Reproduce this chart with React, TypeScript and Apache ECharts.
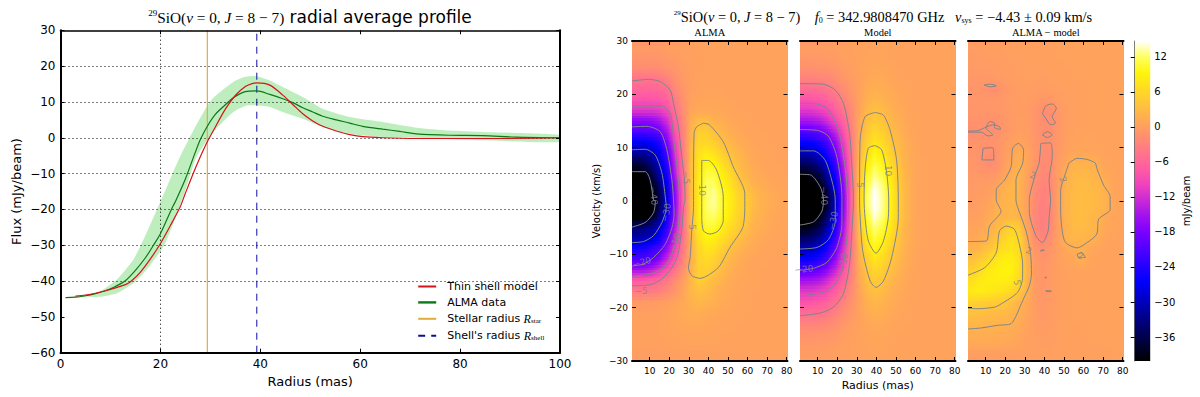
import React, { useEffect, useRef } from "react";
import * as echarts from "echarts";

const gridLinesY = [20, 10, 0, -10, -20, -30, -40];
const gridLinesX = [20];
const stellarRadius = 29.4;
const shellRadius = 39.3;

const redCurve = [[3,-44.2],[5,-43.9],[7,-43.4],[9,-42.7],[11,-41.9],[13,-41],[14.2,-40],[16,-37.5],[18,-33.8],[19.8,-30],[22,-24.5],[23.9,-19.5],[25,-15.5],[27,-8.5],[29,-2.2],[31,3],[33,8],[35,11.8],[37,14.3],[38.5,15.2],[39.3,15.3],[41.9,14.7],[44.5,11.9],[46.5,9.3],[48.5,6.7],[50.5,4.7],[52.5,3.2],[55.2,1.9],[57.9,0.9],[60.5,0.3],[64.5,0],[71.3,-0.2],[87.3,-0.2],[100,0]];
const greenCurve = [[1,-44.6],[3,-44.5],[5,-44.1],[7,-43.5],[9,-42.7],[11,-41.5],[12.9,-40],[15,-37],[17,-33.5],[18.6,-30],[20,-26.8],[22.2,-20],[23,-17.8],[25,-11.5],[27,-4],[28,-0.5],[29.4,3.2],[31,6.5],[33,9.2],[34.6,11.2],[37,12.9],[39.3,13.1],[41.9,12.1],[44.5,10.9],[46.5,9.8],[48.5,8.4],[50.5,7.2],[52.5,6],[55.2,5],[57.9,4.1],[60.5,3.2],[64.5,2.4],[67.9,1.8],[71.3,1.1],[77.9,0.7],[84.5,0.6],[91.2,0.2],[100,0]];
const bandUpper = [[1,-44.6],[4.6,-44],[7.9,-42.9],[11.3,-39.6],[14.6,-34],[16.6,-28.5],[19.3,-20],[21.2,-14],[23.9,-5.4],[26.6,2],[29.2,8.5],[30.6,11.2],[34.6,15.6],[37,17],[39.3,17.2],[41.9,16],[44.5,14.2],[48.5,11.4],[52.5,8.1],[57.9,5.8],[64.5,4.4],[71.3,2.8],[77.9,2],[84.5,1.6],[100,0.8]];
const bandLower = [[1,-44.6],[4.6,-44.4],[7.9,-44.4],[11.3,-43.4],[14.6,-40.6],[17.2,-36.9],[20.6,-30.4],[22.6,-23.9],[25.2,-13.8],[27.2,-5.4],[30.6,1.6],[34.6,7.2],[37.3,9],[39.3,9],[41.9,8.6],[44.5,7.2],[48.5,5.3],[52.5,3],[57.9,1.1],[64.5,0.2],[71.3,0],[77.9,-0.4],[84.5,-0.7],[100,-1.2]];

const radiusCells = [3,7,11,15,19,23,27,31,35,39,43,47,51,55,59,63,67,71,75,79];
const velocityCells = [29,27,25,23,21,19,17,15,13,11,9,7,5,3,1,-1,-3,-5,-7,-9,-11,-13,-15,-17,-19,-21,-23,-25,-27,-29];

const almaGrid = [
[-.5,-.5,-.5,-.3,-.2,0,0,.2,.3,.3,.3,.4,.4,.4,.5,.5,.5,.5,.5,.5],
[-1,-1,-1,-.8,-.5,-.3,0,.2,.3,.3,.3,.4,.4,.4,.5,.5,.5,.5,.5,.5],
[-2,-2,-2,-1.8,-1.2,-.8,-.3,0,.2,.3,.3,.4,.4,.4,.5,.5,.5,.5,.5,.5],
[-4.5,-4.5,-4.5,-4,-3,-1.5,-.5,0,.3,.4,.4,.4,.4,.4,.5,.5,.5,.5,.5,.5],
[-6,-6.2,-6.2,-5.8,-5,-2.5,-1,0,.3,.5,.5,.5,.4,.4,.5,.5,.5,.5,.5,.5],
[-8,-8.2,-8,-7.8,-6.5,-3.8,-1.5,.3,.6,.7,.7,.6,.5,.5,.5,.5,.5,.5,.5,.5],
[-11,-11,-11,-10.5,-9,-5,-2,.5,1,1,1,.8,.6,.5,.5,.5,.5,.5,.5,.5],
[-17,-17,-16.5,-15,-12,-6.5,-2.5,1.5,3,3,2,1.5,1,.7,.6,.5,.5,.5,.5,.5],
[-21,-21,-20.5,-19,-15,-8,-3,2,5,5,3.5,2.5,1.5,1,.7,.6,.5,.5,.5,.5],
[-27,-27,-26,-24,-18,-10,-3.5,2.5,6,6,5,3.5,2.5,1.5,1,.7,.6,.5,.5,.5],
[-32,-31.5,-30,-27,-21,-11.5,-4,3,7,8,7,5,3.5,2.5,1.5,1,.7,.6,.5,.5],
[-37,-36,-33,-29,-23,-13,-4.5,3,7.5,10,9,7,5,3,2,1,.8,.6,.5,.5],
[-40.5,-39.5,-36.5,-31,-25,-14,-5,3,8,11,11,8.5,6.5,4,2.5,1.5,1,.7,.6,.5],
[-43,-42,-39,-34,-27,-16,-6,3,8.5,12,12,9.5,7.5,5,3.5,2,1.5,1,.7,.6],
[-44,-43,-41,-36,-28,-17,-6.5,3,8.5,12,13,10.5,8.5,6,4.5,3,2,1.5,1,.8],
[-44,-43,-41,-35.5,-28,-17,-6.5,3,8.5,12,13,10.5,8.5,6,4.8,3,2,1.5,1,.8],
[-41.5,-41,-38.5,-33,-26,-16,-6,3,8.5,11.5,12,10,8,5.5,4.5,2.5,1.8,1.2,.8,.7],
[-34,-33.5,-32,-29,-23,-14,-5.5,2.5,8,10.5,10.5,8.5,6.5,5.2,3.5,2,1.5,1,.7,.6],
[-31,-30.5,-29,-26,-20,-12,-5,2,7,9,8.5,7,5.3,3.5,2.5,1.5,1,.7,.6,.5],
[-25,-24.5,-23,-21,-16,-10,-4,1.5,6,7.5,7,5.3,3.5,2.5,1.5,1,.7,.6,.5,.5],
[-21,-21,-20,-17,-12.5,-7.5,-3,1.5,5.5,6.5,5.5,3.8,2.5,1.5,1,.7,.6,.5,.5,.5],
[-15,-15,-13.5,-11,-8,-4.5,-1.5,2,5.2,5.5,4.2,3,1.8,1.2,.8,.6,.5,.5,.5,.5],
[-7,-7,-6.5,-5.5,-3.8,-2,0,2.5,5,4.2,3,2,1.2,.9,.7,.6,.5,.5,.5,.5],
[-4,-4,-3.8,-3.2,-2.3,-1,.5,2.5,3.5,3,2.2,1.5,1,.8,.6,.5,.5,.5,.5,.5],
[-.5,-.5,-.5,-.3,0,.5,1,2,2.5,2.2,1.8,1.2,1,.7,.6,.5,.5,.5,.5,.5],
[0,0,0,.2,.5,.8,1.2,1.5,1.5,1.2,1,.8,.7,.6,.5,.5,.5,.5,.5,.5],
[.2,.2,.2,.3,.5,.7,.9,1,1,.8,.7,.6,.6,.5,.5,.5,.5,.5,.5,.5],
[.2,.2,.2,.3,.4,.5,.6,.7,.7,.6,.6,.5,.5,.5,.5,.5,.5,.5,.5,.5],
[.2,.2,.2,.2,.3,.4,.5,.5,.5,.5,.5,.5,.5,.5,.5,.5,.5,.5,.5,.5],
[-.2,-.2,-.2,-.2,-.1,0,0,.1,.1,.2,.2,.2,.2,.2,.3,.3,.3,.3,.3,.3],
];

const modelGrid = [
[-.2,-.2,-.2,-.1,0,.1,.3,.4,.5,.5,.5,.5,.5,.5,.5,.5,.5,.5,.5,.5],
[-.7,-.7,-.6,-.5,-.3,0,.2,.4,.5,.6,.6,.5,.5,.5,.5,.5,.5,.5,.5,.5],
[-1.5,-1.5,-1.3,-1.2,-.8,-.3,0,.4,.7,.8,.8,.6,.5,.5,.5,.5,.5,.5,.5,.5],
[-3,-3,-2.8,-2.5,-1.8,-1,-.3,.3,.9,1.2,1.1,.8,.6,.5,.5,.5,.5,.5,.5,.5],
[-5.5,-5.3,-5,-4.5,-3.3,-2,-.8,.2,1.2,1.8,1.6,1.1,.8,.6,.5,.5,.5,.5,.5,.5],
[-8.3,-8,-7.5,-6.5,-5,-3.2,-1.5,.2,1.8,2.5,2.2,1.5,1,.7,.5,.5,.5,.5,.5,.5],
[-11,-10.8,-10,-9,-7,-4.5,-2.2,.4,2.5,3.5,3,2,1.3,.8,.6,.5,.5,.5,.5,.5],
[-15,-14.8,-14,-12,-9.5,-6.5,-3,.7,3.3,4.7,4,2.6,1.7,1,.6,.5,.5,.5,.5,.5],
[-20.5,-20,-19,-16.5,-13,-8.5,-3.8,1,4.2,6,5.2,3.5,2.2,1.2,.7,.5,.5,.5,.5,.5],
[-26,-25.5,-24,-21,-16.5,-10.5,-4.5,1.5,5.3,7.5,6.5,4.5,2.8,1.5,.8,.5,.5,.5,.5,.5],
[-30.5,-30,-28,-24.5,-19.5,-12,-5,2,6.5,9.5,8,5.5,3.3,1.8,.9,.5,.5,.5,.5,.5],
[-35,-34,-32,-28,-22.5,-14,-5.5,2.5,8,11,9.5,6.8,4,2,1,.6,.5,.5,.5,.5],
[-39.5,-38,-36,-31,-25,-15.5,-6,3,9.5,12.5,11,8,4.5,2.2,1,.6,.5,.5,.5,.5],
[-42.5,-41.5,-39,-34,-27.5,-17,-6.5,3.5,10.5,14,12.5,9,5,2.5,1,.6,.5,.5,.5,.5],
[-45,-44,-42,-37,-30,-18,-7,4.5,11.5,15,13,9.5,5.2,2.5,1,.6,.5,.5,.5,.5],
[-45,-44,-42,-37,-30,-18,-7,4.5,11.5,15,13,9.5,5.2,2.5,1,.6,.5,.5,.5,.5],
[-42.5,-41.5,-39,-34,-27.5,-17,-6.5,3.5,10.5,14,12.5,9,5,2.5,1,.6,.5,.5,.5,.5],
[-39.5,-38,-36,-31,-25,-15.5,-6,3,9.5,12.5,11,8,4.5,2.2,1,.6,.5,.5,.5,.5],
[-35,-34,-32,-28,-22.5,-14,-5.5,2.5,8,11,9.5,6.8,4,2,1,.6,.5,.5,.5,.5],
[-30.5,-30,-28,-24.5,-19.5,-12,-5,2,6.5,9.5,8,5.5,3.3,1.8,.9,.5,.5,.5,.5,.5],
[-26,-25.5,-24,-21,-16.5,-10.5,-4.5,1.5,5.3,7.5,6.5,4.5,2.8,1.5,.8,.5,.5,.5,.5,.5],
[-20.5,-20,-19,-16.5,-13,-8.5,-3.8,1,4.2,6,5.2,3.5,2.2,1.2,.7,.5,.5,.5,.5,.5],
[-15,-14.8,-14,-12,-9.5,-6.5,-3,.7,3.3,4.7,4,2.6,1.7,1,.6,.5,.5,.5,.5,.5],
[-11,-10.8,-10,-9,-7,-4.5,-2.2,.4,2.5,3.5,3,2,1.3,.8,.6,.5,.5,.5,.5,.5],
[-8.3,-8,-7.5,-6.5,-5,-3.2,-1.5,.2,1.8,2.5,2.2,1.5,1,.7,.5,.5,.5,.5,.5,.5],
[-5.5,-5.3,-5,-4.5,-3.3,-2,-.8,.2,1.2,1.8,1.6,1.1,.8,.6,.5,.5,.5,.5,.5,.5],
[-3,-3,-2.8,-2.5,-1.8,-1,-.3,.3,.9,1.2,1.1,.8,.6,.5,.5,.5,.5,.5,.5,.5],
[-1.5,-1.5,-1.3,-1.2,-.8,-.3,0,.4,.7,.8,.8,.6,.5,.5,.5,.5,.5,.5,.5,.5],
[-.7,-.7,-.6,-.5,-.3,0,.2,.4,.5,.6,.6,.5,.5,.5,.5,.5,.5,.5,.5,.5],
[-.2,-.2,-.2,-.1,0,.1,.3,.4,.5,.5,.5,.5,.5,.5,.5,.5,.5,.5,.5,.5],
];

const residualGrid = [
[-.2,-.1,0,0,0,.1,.2,.2,.2,.2,.3,.3,.4,.4,.4,.5,.5,.5,.5,.5],
[-.3,-.3,-.2,-.2,-.1,0,0,.1,.1,.1,.2,.3,.3,.4,.4,.4,.5,.5,.5,.5],
[-.5,-.5,-.4,-.3,-.2,-.1,0,0,0,0,.1,.2,.3,.3,.4,.4,.4,.5,.5,.5],
[-.8,-.8,-.7,-.5,-.3,-.2,-.1,0,0,-.1,0,.1,.2,.3,.3,.4,.4,.4,.5,.5],
[-1,-1,-1.5,-1.8,-1,-.4,-.2,-.1,-.2,-.3,-.2,0,.1,.2,.3,.3,.4,.4,.4,.5],
[-.8,-1,-1,-.8,-.6,-.4,-.3,-.2,-.5,-.8,-.6,-.2,0,.2,.3,.3,.4,.4,.4,.4],
[-1,-1,-1,-.8,-.7,-.5,-.3,-.3,-1,-1.8,-1.8,-.8,-.1,.1,.3,.3,.4,.4,.4,.4],
[-1.3,-1.3,-1.5,-1.7,-1,-.5,-.2,-.3,-1,-1.8,-1.9,-1,-.1,.2,.3,.4,.4,.4,.4,.4],
[-2,-1.7,-1.5,-1.7,-1,-.5,0,-.2,-1,-1.7,-1.7,-.8,0,.3,.4,.5,.5,.4,.4,.4],
[-1.2,-1.2,-1.3,-1.2,-.6,0,.5,0,-1,-1.5,-1.6,-.7,0,.4,.5,.6,.5,.5,.4,.4],
[-1,-1.3,-1.8,-1.6,-.5,.5,1.5,.8,-.8,-2,-2,-.6,.3,.7,.8,.7,.6,.5,.5,.4],
[-.8,-1.3,-2.1,-1.8,-.4,1,2,.8,-1,-2.2,-2,-.3,.8,2,2.1,2,1.5,.6,.5,.4],
[-.7,-.8,-1,-.8,.2,1.5,2.3,.5,-1.2,-2.5,-2.2,0,1.8,2.5,2.6,2.5,2.2,1,.6,.4],
[-.5,-.4,-.2,.2,1.5,2.3,2.2,.3,-1.8,-3,-2.5,0,2,2.8,3,2.8,2.5,1.8,.7,.5],
[-.3,-.2,0,1,2,2.5,2.2,.2,-2,-3.2,-2.8,.2,2.2,3,3.2,3,2.7,2.1,.8,.5],
[-.3,0,.5,1.5,2.2,2.5,2,.2,-2.2,-3.4,-2.8,.2,2.2,3,3.2,3,2.7,2.1,1,.5],
[0,.3,1,2,2.2,2.6,2.2,.3,-2.5,-3.5,-2.6,0,2.2,3,3.2,2.8,2.3,1.2,.7,.5],
[.5,.8,1.6,2.5,3.8,5.5,4.5,.8,-2.2,-3.5,-2.5,0,2,2.8,3,2.6,2.1,1,.6,.5],
[1,1.3,2.2,3.5,5.5,7,6,1.5,-1.8,-2.8,-1.8,.1,2,2.5,2.4,2.2,1.5,.7,.5,.4],
[2,2.5,3.8,5.2,7,7.5,6.5,2,-1,-1.7,-1,0,1,1.5,1.8,1,.7,.5,.4,.4],
[3.5,4.5,6,7.5,8.5,8.5,7,2.3,-.5,-1.3,-.7,0,.5,.9,1.8,.8,.5,.4,.4,.4],
[5,6.5,8,8.5,9,9,7,2.5,-.3,-1,-.5,0,.3,.5,.5,.5,.4,.4,.4,.4],
[7,8,8.5,8.5,8.5,8,6,2.5,-.3,-1,-.5,0,.2,.4,.4,.4,.4,.4,.4,.4],
[8,8.5,8,7.5,7,6.2,4.5,2,-.2,-1,-.6,0,.2,.3,.4,.4,.4,.4,.4,.4],
[5.5,5.2,5,4.8,4.5,3.5,2.3,1,-.2,-.8,-.5,0,.2,.3,.4,.4,.4,.4,.4,.4],
[3.5,3.5,3.2,3,2.8,2.5,1.8,.8,-.2,-.7,-.4,0,.2,.3,.3,.3,.4,.4,.4,.4],
[2.5,2.4,2.2,2.2,2,1.8,1.2,.5,-.2,-.5,-.3,0,.2,.3,.3,.3,.3,.4,.4,.4],
[1.6,1.6,1.5,1.5,1.4,1.2,.8,.3,-.1,-.3,-.2,0,.2,.2,.3,.3,.3,.3,.4,.4],
[1,1,1,1,.9,.8,.5,.2,0,-.1,-.1,0,.1,.2,.2,.3,.3,.3,.3,.3],
[-.3,-.3,-.2,-.2,-.2,-.1,0,0,0,0,0,.1,.1,.1,.2,.2,.2,.2,.3,.3],
];

const almaContours = [
[[1,5.5],[7.8,5.5],[10.3,3.9],[12,0.2],[12.9,0],[12,-2.2],[7.8,-4],[1,-4.9]],
[[1,9.6],[7.8,9.7],[12.9,8.6],[16.3,5.2],[18,0.8],[18.5,-1.2],[16.3,-4],[12,-6.5],[6.9,-7.6],[1,-7.8]],
[[1,13.9],[8.6,14],[15.4,13],[18.8,9.6],[21.4,3.9],[22.2,0.2],[22.5,-2.5],[21.4,-5],[18,-8.1],[12,-10.6],[6.9,-11.8],[1,-12.2]],
[[1,17.8],[16.3,17.8],[20.5,16.4],[22.5,10.8],[24.7,3.9],[25.3,0.2],[25,-3.1],[23.6,-7.5],[20.5,-10.6],[16.3,-12.8],[8.6,-13.8],[1,-14.1]],
[[1,22.5],[9.5,22.8],[15.4,22.4],[20.5,20.8],[22.2,18.3],[24.7,13.9],[26.4,8.3],[27.8,3.9],[28.1,0.2],[27.3,-1.2],[26.4,-5.6],[24.2,-10.3],[21.4,-12.5],[16.3,-14.6],[10.3,-15.7],[1,-15.9]],
[[37.5,14.6],[40.5,14.3],[47.6,11.1],[52.7,6.4],[58.6,1.4],[58.6,-1.2],[57.5,-5],[51,-8.7],[45,-12.5],[35.8,-14.5],[31.5,-14],[29.8,-12.5],[30.7,-10.6],[31.5,-5.6],[32.4,-1.2],[32.4,1.4],[32.7,12.7],[34,13.9],[37.5,14.6]],
[[36.6,7.6],[40,7.6],[44.2,5.8],[47.6,0.8],[47.6,-3.7],[45,-5.6],[40.8,-6.2],[37.5,-5.6],[36.6,-3.1],[36.6,0.6],[36.6,7.6]],
];
const modelContours = [
[[1,22],[13,21.9],[19,20.8],[23.2,18.3],[26.3,12.7],[27.5,6.4],[28.3,0.2],[27.5,-5.6],[26.3,-11.8],[23.2,-17.4],[18.1,-19.9],[11.4,-21],[1,-21.5]],
[[1,18.3],[9.7,18.2],[15.6,17.1],[20.7,13.3],[24,6.4],[25.3,0.2],[25.3,-4.4],[23.2,-11.8],[19,-15.6],[13,-17.1],[1,-17.8]],
[[1,13.4],[10.5,13.2],[15.6,12.1],[19.8,8.3],[22.4,0.8],[22.4,-4.4],[19.8,-8.7],[14.7,-11.5],[8,-12.6],[1,-13]],
[[1,9.4],[8,9.4],[13.9,7.6],[18.1,2.6],[19,0.2],[19,-3.7],[15.6,-7.2],[9.7,-8.7],[1,-9]],
[[1,5],[6.3,4.9],[11.4,2.6],[13,0.2],[12.2,-1.9],[8,-3.9],[1,-4.5]],
[[39.3,16.6],[34.2,15.8],[31.7,11.4],[31.4,0.2],[31.7,-3.1],[33,-9.3],[36.8,-15],[39.8,-16.2],[43.6,-15],[47.8,-10.6],[51.2,-3.1],[51.2,0.2],[50.3,7.7],[47,13.3],[43.6,16.1],[39.3,16.6]],
[[39.3,10.4],[35.9,9.9],[34.2,5.8],[33.7,0.2],[34.2,-3.1],[35.9,-7.5],[39.8,-9.8],[43.6,-7.5],[46.1,-3.1],[46.3,0.2],[45.3,5.2],[42.7,9.6],[39.3,10.4]],
];
const residualContours = [
[[9.2,21.75],[12.5,21.9],[15.4,21.6],[12.5,21.4],[9.2,21.75]],
[[1,12.9],[7.8,12.9],[11.2,12.2],[13.7,12.4],[12,13],[10.3,13.6],[12,14.9],[14.6,14.6],[14.5,13.8],[17.6,13.4],[17.2,13.9],[14,14.3],[10.5,13.9],[6,13.2],[1,13.1]],
[[8.7,9.9],[13.7,10],[14.2,7.7],[8.1,7.7],[8.7,9.9]],
[[39,16.4],[40.7,17.8],[44,18.2],[46.1,17.4],[44,15.8],[45.7,14.6],[43.2,14.3],[40.7,15.5],[39,16.4]],
[[39,12.4],[41.5,13],[44,12.4],[41.5,11.9],[39,12.4]],
[[1,-7.6],[10.3,-7.5],[12,-4.7],[17.9,-1.9],[17.1,-1.2],[15.4,0.2],[15.4,2.1],[19.6,3.9],[23,6.4],[23.8,9.9],[26.7,10.8],[29.4,9.6],[28.9,7.1],[25.5,3.9],[25.5,0.2],[26.4,-1.2],[30.6,-5.6],[33,-10],[33.4,-13.7],[32.3,-15.9],[28.9,-18.7],[23,-23],[16.2,-23.3],[7.8,-23.8],[1,-24]],
[[1,-13.9],[9.5,-12.5],[15.4,-9.7],[17.1,-5.6],[20.5,-4.7],[24.7,-5.3],[27.2,-8.1],[28.9,-11.8],[28.9,-14.3],[26.4,-17.1],[17.9,-19.3],[14.6,-19.9],[6.1,-20.2],[1,-20.1]],
[[38.2,10.8],[43.2,10.9],[44,8.3],[42.4,3.9],[43.2,0.2],[42.4,-3.1],[41.9,-5.6],[39,-7.8],[35.6,-6.5],[32.3,-1.9],[32.3,0.2],[35.6,5.2],[37.3,7.1],[38.2,10.8]],
[[52.5,7.1],[56.7,8],[61.8,7.8],[66,7.1],[66.8,6.1],[70.2,3],[73.6,0.8],[73.6,-1.6],[67.7,-3.4],[66.8,-6.2],[61.8,-7.8],[56.7,-8.8],[50.8,-7.8],[49.1,-5.6],[48.3,-1.9],[48.3,2],[50.8,5.2],[52.5,7.1]],
[[56.7,-10],[59.2,-9.7],[60.9,-10.6],[57.6,-10.6],[56.7,-10]],
[[38.2,-9.2],[40,-9.2],[38.2,-9.4],[38.2,-9.2]],
[[40.2,-14.3],[41.2,-14.3],[40.7,-14.5],[40.2,-14.3]],
[[40.7,-16.8],[43.6,-16.9],[41,-17],[40.7,-16.8]],
];
const almaLabels: [number, number, string, number][] = [[12,1,"−40",-85],[18.5,-2.2,"−30",80],[6,-11.5,"−20",15],[23,-7.8,"−10",70],[5.5,-16.8,"−5",0],[28.5,4.4,"−5",-90],[31.5,-4.9,"5",-90],[36.6,2,"10",-90]];
const modelLabels: [number, number, string, number][] = [[13,1,"−40",-90],[18,-3.7,"−30",80],[3,-12.8,"−20",5],[23,-11.5,"−10",80],[31.4,3,"5",-90],[46,5.7,"10",-90]];
const residualLabels: [number, number, string, number][] = [[26,-15.3,"5",-80],[32,-9.3,"2",-20],[34,4.8,"2",-20],[58.4,-10.3,"2",-20],[49.5,4,"2",-70]];

const panelTicksX = [10,20,30,40,50,60,70,80];
const colorbarTicks = [12,6,0,-6,-12,-18,-24,-30,-36];
const colorMin = -40.1;
const colorMax = 14.7;
const colormap = ["#000000","#000033","#000066","#000099","#0000cc","#0000ff","#2800ff","#5000ff","#7800ff","#9f0ff0","#c729d6","#ef42bd","#ff5ca3","#ff758a","#ff8f70","#ffa857","#ffc23d","#ffdb24","#fff50a","#ffff60","#ffffff"];

const sans = "'DejaVu Sans'";
const serif = "'Liberation Serif'";
const contourColor = "#7f8589";
const minus = (v: number | string) => String(v).replace("-", "−");

const P = { left: { l: 60.5, t: 30.3, w: 499.5, h: 322.4 }, panels: [632, 800, 968], pw: 155.5, pt: 41, ph: 320, cb: { l: 1134.7, w: 15.5 } };

function buildOption() {
  const grid: any[] = [{ left: P.left.l, top: P.left.t, width: P.left.w, height: P.left.h }];
  P.panels.forEach((l) => grid.push({ left: l, top: P.pt, width: P.pw, height: P.ph }));
  grid.push({ left: P.cb.l, top: P.pt, width: P.cb.w, height: P.ph });

  const hiddenLabel = { show: false };
  const xAxis: any[] = [];
  const yAxis: any[] = [];
  const tickBase = { inside: true, length: 4, lineStyle: { color: "#000", width: 1 } };
  const thick = (w: number) => ({ show: true, onZero: false, lineStyle: { color: "#000", width: w } });

  xAxis.push({ gridIndex: 0, type: "value", min: 0, max: 100, interval: 20, z: 10, position: "bottom", splitLine: { show: false }, axisLine: thick(2), axisTick: tickBase,
    axisLabel: { color: "#000", fontFamily: sans, fontSize: 12, margin: 5, showMaxLabel: true },
    name: "Radius (mas)", nameLocation: "middle", nameGap: 22, nameTextStyle: { color: "#000", fontFamily: sans, fontSize: 13 } });
  xAxis.push({ gridIndex: 0, type: "value", min: 0, max: 100, interval: 20, z: 10, position: "top", splitLine: { show: false }, axisLine: thick(1.5), axisTick: tickBase, axisLabel: hiddenLabel });
  yAxis.push({ gridIndex: 0, type: "value", min: -60, max: 30, interval: 10, z: 10, position: "left", splitLine: { show: false }, axisLine: thick(2), axisTick: tickBase,
    axisLabel: { color: "#000", fontFamily: sans, fontSize: 12, margin: 5, formatter: (v: number) => minus(v) },
    name: "Flux (mJy/beam)", nameLocation: "middle", nameGap: 38, nameRotate: 90, nameTextStyle: { color: "#000", fontFamily: sans, fontSize: 13 } });
  yAxis.push({ gridIndex: 0, type: "value", min: -60, max: 30, interval: 10, z: 10, position: "right", splitLine: { show: false }, axisLine: thick(2), axisTick: tickBase, axisLabel: hiddenLabel });

  const small = { color: "#000", fontFamily: sans, fontSize: 9 };
  [1, 2, 3].forEach((g) => {
    const custom = { customValues: panelTicksX };
    xAxis.push({ gridIndex: g, type: "value", min: 1, max: 80.4, z: 10, position: "bottom", splitLine: { show: false }, axisLine: thick(2),
      axisTick: { ...tickBase, ...custom }, axisLabel: { ...small, ...custom, margin: 5 },
      ...(g === 2 ? { name: "Radius (mas)", nameLocation: "middle", nameGap: 18, nameTextStyle: { color: "#000", fontFamily: sans, fontSize: 11 } } : {}) });
    xAxis.push({ gridIndex: g, type: "value", min: 1, max: 80.4, z: 10, position: "top", splitLine: { show: false }, axisLine: thick(2), axisTick: { ...tickBase, ...custom }, axisLabel: hiddenLabel });
    yAxis.push({ gridIndex: g, type: "value", min: -30, max: 30, interval: 10, z: 10, position: "left", splitLine: { show: false }, axisLine: { show: false }, axisTick: { ...tickBase, show: true },
      axisLabel: g === 1 ? { ...small, margin: 4, formatter: (v: number) => minus(v) } : hiddenLabel,
      ...(g === 1 ? { name: "Velocity (km/s)", nameLocation: "middle", nameGap: 31, nameRotate: 90, nameTextStyle: { color: "#000", fontFamily: sans, fontSize: 10 } } : {}) });
    yAxis.push({ gridIndex: g, type: "value", min: -30, max: 30, interval: 10, z: 10, position: "right", splitLine: { show: false }, axisLine: { show: false }, axisTick: { ...tickBase, show: true }, axisLabel: hiddenLabel });
  });
  xAxis.push({ gridIndex: 4, type: "value", min: 0, max: 1, show: false });
  yAxis.push({ gridIndex: 4, type: "value", min: colorMin, max: colorMax, z: 10, position: "right", splitLine: { show: false }, axisLine: { show: true, lineStyle: { color: "#000", width: 0.5 } },
    axisTick: { ...tickBase, inside: true, customValues: colorbarTicks },
    axisLabel: { color: "#000", fontFamily: sans, fontSize: 10, margin: 4, customValues: colorbarTicks, formatter: (v: number) => minus(v) },
    name: "mJy/beam", nameLocation: "middle", nameGap: 31, nameRotate: 90, nameTextStyle: { color: "#000", fontFamily: sans, fontSize: 10 } });

  const series: any[] = [];
  series.push({
    type: "custom", name: "band", xAxisIndex: 0, yAxisIndex: 0, z: 2, data: bandUpper,
    renderItem: (p: any, api: any) => {
      if (p.dataIndex !== 0) return null;
      const pts = bandUpper.concat(bandLower.slice().reverse()).map((d) => api.coord(d));
      return { type: "polygon", shape: { points: pts, smooth: 0.2 }, style: { fill: "#aeeaae", opacity: 0.8 } };
    },
    markLine: {
      silent: true, symbol: "none", label: { show: false },
      lineStyle: { color: "#000", type: [1, 3], width: 1 },
      data: [...gridLinesY.map((y) => ({ yAxis: y })), ...gridLinesX.map((x) => ({ xAxis: x }))],
    },
  });
  const curve = { type: "line", xAxisIndex: 0, yAxisIndex: 0, showSymbol: false, symbol: "none", silent: true };
  series.push({ ...curve, name: "Thin shell model", z: 6, data: redCurve, smooth: 0.3, lineStyle: { color: "#d4141a", width: 1.2 }, itemStyle: { color: "#d4141a" } });
  series.push({ ...curve, name: "ALMA data", z: 5, data: greenCurve, smooth: 0.3, lineStyle: { color: "#0a7a14", width: 1.2 }, itemStyle: { color: "#0a7a14" } });
  series.push({ ...curve, name: "Stellar radius", z: 4, data: [[stellarRadius, -60], [stellarRadius, 30]], lineStyle: { color: "#e5ab3a", width: 1.2 }, itemStyle: { color: "#e5ab3a" } });
  series.push({ ...curve, name: "Shell's radius", z: 4, data: [[shellRadius, -60], [shellRadius, 30]], lineStyle: { color: "#0c0ca0", width: 1, type: [7, 6] }, itemStyle: { color: "#0c0ca0" } });

  const colorOf = (v: number) => echarts.color.lerp(Math.min(1, Math.max(0, (v - colorMin) / (colorMax - colorMin))), colormap);
  const panels = [
    { grid: almaGrid, contours: almaContours, labels: almaLabels },
    { grid: modelGrid, contours: modelContours, labels: modelLabels },
    { grid: residualGrid, contours: residualContours, labels: residualLabels },
  ];
  const nCols = radiusCells.length;
  const nRows = velocityCells.length;
  const strips = 4;
  panels.forEach((panel, i) => {
    const xi = 2 + i * 2;
    const yi = 2 + i * 2;
    const table = panel.grid;
    const cells: number[][] = [];
    velocityCells.forEach((v, row) => radiusCells.forEach((r, col) => cells.push([r, v, table[row][col]])));
    // Display shading between neighbouring cells of the read table, as imshow does for this blurred map.
    const shade = (rowPos: number, col: number) => {
      const c = Math.max(0, Math.min(nCols - 1, col));
      const r0 = Math.max(0, Math.min(nRows - 1, Math.floor(rowPos)));
      const r1 = Math.max(0, Math.min(nRows - 1, r0 + 1));
      const t = Math.max(0, Math.min(1, rowPos - Math.floor(rowPos)));
      return table[r0][c] * (1 - t) + table[r1][c] * t;
    };
    series.push({
      type: "custom", xAxisIndex: xi, yAxisIndex: yi, z: 2, data: cells, encode: { x: 0, y: 1 }, silent: true,
      renderItem: (p: any, api: any) => {
        const r = api.value(0), v = api.value(1);
        const row = Math.floor(p.dataIndex / nCols);
        const col = p.dataIndex % nCols;
        const a = api.coord([r - 2, v + 1]);
        const b = api.coord([Math.min(r + 2, 80.4), v - 1]);
        const x = Math.round(a[0]);
        const w = Math.round(b[0]) - x;
        const cx = (api.coord([r, v])[0] - x) / w;
        const children: any[] = [];
        for (let s = 0; s < strips; s++) {
          const y0 = Math.round(a[1] + ((b[1] - a[1]) * s) / strips);
          const y1 = Math.round(a[1] + ((b[1] - a[1]) * (s + 1)) / strips);
          const rowPos = row + (s + 0.5) / strips - 0.5;
          const mid = shade(rowPos, col);
          const left = (shade(rowPos, col - 1) + mid) / 2;
          const right = (shade(rowPos, col + 1) + mid) / 2;
          children.push({
            type: "rect", shape: { x, y: y0, width: w, height: y1 - y0 },
            style: { fill: new echarts.graphic.LinearGradient(0, 0, 1, 0, [
              { offset: 0, color: colorOf(left) },
              { offset: Math.min(0.98, Math.max(0.02, cx)), color: colorOf(mid) },
              { offset: 1, color: colorOf(right) },
            ]) },
          });
        }
        return { type: "group", children };
      },
    });
    panel.contours.forEach((c) => series.push({
      type: "line", xAxisIndex: xi, yAxisIndex: yi, z: 5, data: c, showSymbol: false, symbol: "none", smooth: 0.25, silent: true,
      lineStyle: { color: contourColor, width: 1 },
    }));
    series.push({
      type: "scatter", xAxisIndex: xi, yAxisIndex: yi, z: 6, symbolSize: 0, silent: true,
      data: panel.labels.map(([r, v, t, rot]) => ({ value: [r, v], label: { show: true, position: "inside", formatter: t, rotate: rot, color: contourColor, fontFamily: sans, fontSize: 9 } })),
    });
  });

  const nb = { fontWeight: "normal", color: "#000" };
  const title = [
    { left: 310, top: 8, padding: 0, textAlign: "center",
      text: "{sup|29}{m|SiO(}{i|v}{m| = 0, }{i|J}{m| = 8 − 7)}{t| radial average profile}",
      textStyle: { fontWeight: "normal", rich: {
        sup: { ...nb, fontFamily: serif, fontSize: 9, lineHeight: 18, verticalAlign: "top" },
        m: { ...nb, fontFamily: serif, fontSize: 15.3, lineHeight: 18 },
        i: { ...nb, fontFamily: serif, fontSize: 15.3, fontStyle: "italic", lineHeight: 18 },
        t: { ...nb, fontFamily: sans, fontSize: 17, lineHeight: 18 } } } },
    { left: 883, top: 9, padding: 0, textAlign: "center",
      text: "{sup|29}{m|SiO(}{i|v}{m| = 0, }{i|J}{m| = 8 − 7)    }{i|f}{sub|0}{m| = 342.9808470 GHz   }{i|v}{sub|sys}{m| = −4.43 ± 0.09 km/s}",
      textStyle: { fontWeight: "normal", rich: {
        sup: { ...nb, fontFamily: serif, fontSize: 7, lineHeight: 15, verticalAlign: "top" },
        sub: { ...nb, fontFamily: serif, fontSize: 8, lineHeight: 15, verticalAlign: "bottom" },
        m: { ...nb, fontFamily: serif, fontSize: 14.4, lineHeight: 15 },
        i: { ...nb, fontFamily: serif, fontSize: 14.4, fontStyle: "italic", lineHeight: 15 } } } },
    ...["ALMA", "Model", "ALMA − model"].map((t, i) => ({
      left: P.panels[i] + P.pw / 2, top: 27, padding: 0, textAlign: "center", text: t,
      textStyle: { fontFamily: serif, fontSize: 10.5, fontWeight: "normal", color: "#000" } })),
  ];

  return {
    animation: false,
    backgroundColor: "#fff",
    grid, xAxis, yAxis, series, title,
    legend: {
      left: 417, top: 281, orient: "vertical", itemWidth: 18, itemHeight: 8, itemGap: 4.9, selectedMode: false, padding: 0,
      itemStyle: { opacity: 0 },
      data: [
        { name: "Thin shell model" },
        { name: "ALMA data", lineStyle: { width: 2.4 } },
        { name: "Stellar radius" },
        { name: "Shell's radius" },
      ],
      formatter: (name: string) => {
        if (name === "Stellar radius") return "{t|Stellar radius }{r|R}{s|star}";
        if (name === "Shell's radius") return "{t|Shell's radius }{r|R}{s|shell}";
        return `{t|${name}}`;
      },
      textStyle: { rich: {
        t: { fontFamily: sans, fontSize: 11, color: "#000", padding: [0, 0, 0, 6] },
        r: { fontFamily: serif, fontSize: 12, fontStyle: "italic", color: "#000" },
        s: { fontFamily: serif, fontSize: 7, color: "#000", verticalAlign: "bottom", padding: [3, 0, 0, 0] } } },
    },
    graphic: [{
      type: "rect", z: 1, silent: true,
      shape: { x: P.cb.l, y: P.pt, width: P.cb.w, height: P.ph },
      style: { fill: new echarts.graphic.LinearGradient(0, 1, 0, 0, colormap.map((c, i) => ({ offset: i / (colormap.length - 1), color: c }))) },
    }],
  };
}

export default function App() {
  const ref = useRef<HTMLDivElement>(null);
  useEffect(() => {
    document.body.style.margin = "0";
    const chart = echarts.init(ref.current!, undefined, { renderer: "svg" });
    chart.setOption(buildOption() as any);
    return () => chart.dispose();
  }, []);
  return <div ref={ref} style={{ position: "absolute", left: 0, top: 0, width: 1200, height: 397 }} />;
}
